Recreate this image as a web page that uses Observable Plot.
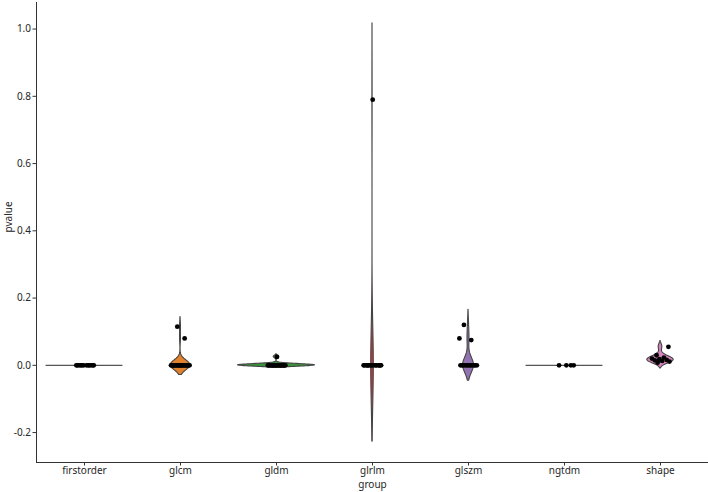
<!DOCTYPE html>
<html>
<head>
<meta charset="utf-8">
<script src="https://cdn.jsdelivr.net/npm/d3@7"></script>
<script src="https://cdn.jsdelivr.net/npm/@observablehq/plot@0.6"></script>
<style>
  html, body { margin: 0; padding: 0; background: #fff; }
  #chart { width: 708px; height: 492px; }
</style>
</head>
<body>
<div id="chart"></div>
<script>
// ---- data ----
const groups = ["firstorder", "glcm", "gldm", "glrlm", "glszm", "ngtdm", "shape"];
const colors = ["#3274a1", "#e1812c", "#3a923a", "#c03d3e", "#9372b2", "#845b53", "#d684bd"];
const firstorder = [0, 0, 0, 0, 0, 0, 0, 0, 0, 0, 0, 0];
const glcm = [0, 0, 0, 0, 0, 0, 0, 0, 0, 0, 0, 0, 0, 0, 0, 0, 0, 0, 0, 0, 0, 0, 0, 0.08, 0.115];
const gldm = [0, 0, 0, 0, 0, 0, 0, 0, 0, 0, 0, 0, 0, 0, 0.025];
const glrlm = [0, 0, 0, 0, 0, 0, 0, 0, 0, 0, 0, 0, 0, 0, 0, 0.79];
const glszm = [0, 0, 0, 0, 0, 0, 0, 0, 0, 0, 0, 0, 0.08, 0.075, 0.12];
const ngtdm = [0, 0, 0, 0];
const shape = [0.008, 0.011, 0.013, 0.015, 0.016, 0.018, 0.020, 0.023, 0.03, 0.055];
const yTicks = [-0.2, 0.0, 0.2, 0.4, 0.6, 0.8, 1.0];
const series = [firstorder, glcm, gldm, glrlm, glszm, ngtdm, shape];

// ---- seaborn-like KDE (scott bandwidth, cut = 2, gridsize = 100) ----
function kde(vals) {
  const n = vals.length;
  const uniq = new Set(vals);
  if (uniq.size === 1) return null;
  const mean = d3.mean(vals);
  const sd = Math.sqrt(d3.sum(vals, v => (v - mean) ** 2) / (n - 1));
  const bw = sd * Math.pow(n, -0.2);
  const lo = d3.min(vals) - 2 * bw, hi = d3.max(vals) + 2 * bw;
  const pts = [];
  for (let k = 0; k < 100; ++k) {
    const y = lo + (hi - lo) * k / 99;
    let d = 0;
    for (const v of vals) d += Math.exp(-0.5 * ((y - v) / bw) ** 2);
    d /= n * bw * Math.sqrt(2 * Math.PI);
    pts.push({y, d});
  }
  return pts;
}
const dens = series.map(kde);
const maxD = d3.max(dens.filter(d => d), d => d3.max(d, p => p.d));
const half = 0.4;

const violinRows = [];
const singleRows = [];
dens.forEach((pts, i) => {
  if (pts) {
    for (const p of pts) violinRows.push({group: groups[i], i, y: p.y, x1: i - half * p.d / maxD, x2: i + half * p.d / maxD});
  } else {
    singleRows.push({group: groups[i], i, y: series[i][0]});
  }
});

// strip points with deterministic jitter (layout only)
const stripRows = [];
series.forEach((vals, i) => {
  vals.forEach((v, j) => {
    const f = ((j * 0.6180339887 + 0.37 * i + 0.13) % 1) - 0.5;
    stripRows.push({group: groups[i], x: i + f * 0.2, y: v});
  });
});

const yMin = -0.289, yMax = 1.079;
const font = "'Noto Sans', 'Open Sans', sans-serif";

const chart = Plot.plot({
  width: 708,
  height: 492,
  marginLeft: 36,
  marginRight: 0,
  marginTop: 2,
  marginBottom: 30,
  style: {fontFamily: font, fontSize: "10px", color: "#262626", background: "#fff"},
  x: {type: "linear", domain: [-0.5, groups.length - 0.5]},
  y: {domain: [yMin, yMax]},
  marks: [
    Plot.areaX(violinRows, {
      y: "y", x1: "x1", x2: "x2", z: "group",
      fill: d => colors[d.i], stroke: "#444", strokeWidth: 1.1
    }),
    Plot.ruleY(singleRows, {
      y: "y", x1: d => d.i - half, x2: d => d.i + half,
      stroke: "#555", strokeWidth: 1.3
    }),
    Plot.dot(stripRows, {x: "x", y: "y", r: 2.4, fill: "#000", stroke: "none"}),
    Plot.ruleX([-0.5], {y1: yMin, y2: yMax, stroke: "#333", strokeWidth: 1}),
    Plot.ruleY([yMin], {x1: -0.5, x2: groups.length - 0.5, stroke: "#333", strokeWidth: 1}),
    Plot.axisY({ticks: yTicks, tickFormat: d => d.toFixed(1), tickSize: 3.5, tickPadding: 2, label: null, stroke: "#333"}),
    Plot.axisX({ticks: d3.range(groups.length), tickFormat: i => groups[i], tickSize: 3.5, tickPadding: 1, label: null, stroke: "#333"}),
    Plot.text(["group"], {frameAnchor: "bottom", dy: 25.5, text: d => d, fontSize: 10, fill: "#262626"}),
    Plot.text(["pvalue"], {frameAnchor: "left", dx: -28, rotate: -90, text: d => d, fontSize: 10, fill: "#262626"})
  ]
});
document.getElementById("chart").appendChild(chart);
</script>
</body>
</html>
